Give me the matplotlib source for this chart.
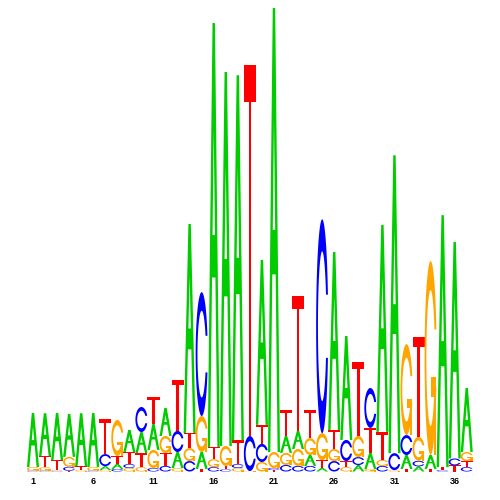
import numpy as np
import matplotlib
matplotlib.use("Agg")
import matplotlib.pyplot as plt
from matplotlib.path import Path
from matplotlib.patches import PathPatch

# ---------------- data (bits) ----------------
positions = list(range(1, 38))
tick_positions = [1, 6, 11, 16, 21, 26, 31, 36]
tick_labels = ["1", "6", "11", "16", "21", "26", "31", "36"]

height_A = [0.233, 0.185, 0.203, 0.185, 0.228, 0.233, 0.017, 0.022, 0.095, 0.091,
            0.112, 0.121, 0.069, 0.901, 0.073, 1.828, 1.612, 1.573, 0.000, 0.711,
            1.914, 0.073, 0.078, 0.047, 0.015, 0.767, 0.448, 0.028, 0.069, 0.892,
            1.284, 0.060, 0.022, 0.060, 1.086, 0.933, 0.276]
height_C = [0.004, 0.004, 0.002, 0.017, 0.000, 0.004, 0.052, 0.011, 0.017, 0.108,
            0.015, 0.024, 0.091, 0.045, 0.534, 0.019, 0.009, 0.017, 0.151, 0.078,
            0.009, 0.028, 0.024, 0.024, 0.922, 0.045, 0.091, 0.034, 0.172, 0.024,
            0.073, 0.086, 0.024, 0.000, 0.006, 0.030, 0.019]
height_G = [0.015, 0.015, 0.004, 0.043, 0.006, 0.015, 0.006, 0.155, 0.015, 0.019,
            0.078, 0.073, 0.015, 0.056, 0.155, 0.034, 0.086, 0.015, 0.002, 0.041,
            0.069, 0.052, 0.073, 0.073, 0.116, 0.052, 0.019, 0.091, 0.011, 0.026,
            0.006, 0.392, 0.103, 0.836, 0.000, 0.000, 0.039]
height_T = [0.000, 0.047, 0.043, 0.003, 0.017, 0.000, 0.151, 0.034, 0.052, 0.060,
            0.116, 0.056, 0.220, 0.065, 0.011, 0.052, 0.015, 0.103, 1.599, 0.082,
            0.006, 0.112, 0.582, 0.121, 0.034, 0.082, 0.026, 0.319, 0.108, 0.121,
            0.000, 0.011, 0.431, 0.011, 0.013, 0.026, 0.026]

letter_colors = {"A": "#00CC00", "C": "#0000FF", "G": "#FFA500", "T": "#FF0000"}


# ---------------- glyph shapes (unit box) ----------------
def glyph_A():
    outer = [(0, 0), (0.4, 1), (0.6, 1), (1, 0), (0.8, 0), (0.64, 0.4), (0.36, 0.4), (0.2, 0)]
    inner = [(0.4, 0.5), (0.6, 0.5), (0.5, 0.75)]
    return [outer + [outer[0]], inner + [inner[0]]]


def glyph_T():
    pts = [(0, 1), (1, 1), (1, 0.9), (0.6, 0.9), (0.6, 0), (0.4, 0), (0.4, 0.9), (0, 0.9)]
    return [pts + [pts[0]]]


def c_shape():
    a1 = np.linspace(0.3 + np.pi / 2, np.pi, 100)
    a2 = np.linspace(np.pi, 1.5 * np.pi, 100)
    xl1 = 0.5 + 0.5 * np.sin(a1)
    yl1 = 0.5 + 0.5 * np.cos(a1)
    xl = np.concatenate([xl1, 0.5 + 0.5 * np.sin(a2)])
    yl = np.concatenate([yl1, 0.5 + 0.5 * np.cos(a2)])
    x = np.concatenate([xl, xl[::-1]])
    y = np.concatenate([yl, 1 - yl[::-1]])
    xi1 = 0.5 + 0.35 * np.sin(a1)
    yi1 = 0.5 + 0.35 * np.cos(a1)
    keep = yi1 <= yl1.max()
    xi1 = xi1[keep]
    yi1 = yi1[keep]
    yi1[0] = yl1.max()
    xi = np.concatenate([xi1, 0.5 + 0.35 * np.sin(a2)])
    yi = np.concatenate([yi1, 0.5 + 0.35 * np.cos(a2)])
    x1 = np.concatenate([xi, xi[::-1]])
    y1 = np.concatenate([yi, 1 - yi[::-1]])
    x = np.concatenate([x, x1[::-1]])
    y = np.concatenate([y, y1[::-1]])
    return list(zip(x, y)), xl1.max()


def glyph_C():
    pts, _ = c_shape()
    return [pts + [pts[0]]]


def glyph_G():
    pts, r1 = c_shape()
    h1 = 0.4
    bar = [(r1, h1), (0.5, h1), (0.5, h1 - 0.1), (r1 - 0.2, h1 - 0.1),
           (r1 - 0.2, 0), (r1, 0)]
    return [pts + [pts[0]], bar + [bar[0]]]


glyphs = {"A": glyph_A(), "C": glyph_C(), "G": glyph_G(), "T": glyph_T()}


def draw_letter(ax, letter, xc, y0, h, w=1.0):
    polys = glyphs[letter]
    if letter == "A":
        # outer outline plus counter as one compound path (counter is a hole)
        verts, codes = [], []
        for poly in polys:
            v = [(xc - w / 2 + w * px, y0 + h * py) for px, py in poly]
            verts += v
            codes += [Path.MOVETO] + [Path.LINETO] * (len(v) - 2) + [Path.CLOSEPOLY]
        ax.add_patch(PathPatch(Path(verts, codes), facecolor=letter_colors[letter],
                               edgecolor="none", lw=0))
        return
    for poly in polys:
        v = [(xc - w / 2 + w * px, y0 + h * py) for px, py in poly]
        codes = [Path.MOVETO] + [Path.LINETO] * (len(v) - 2) + [Path.CLOSEPOLY]
        ax.add_patch(PathPatch(Path(v, codes), facecolor=letter_colors[letter],
                               edgecolor="none", lw=0))


# ---------------- figure ----------------
fig = plt.figure(figsize=(5, 5), dpi=100)
ax = fig.add_axes([0.05395, 0.057, 0.8916, 0.928])
ax.set_xlim(0.5, 37.5)
ax.set_ylim(0, 2)

heights = {"A": height_A, "C": height_C, "G": height_G, "T": height_T}
for i, pos in enumerate(positions):
    col = sorted([(heights[L][i], L) for L in "ACGT"], key=lambda t: t[0])
    base = 0.0
    for h, L in col:
        if h <= 0:
            continue
        draw_letter(ax, L, pos, base, h)
        base += h

for s in ax.spines.values():
    s.set_visible(False)
ax.set_yticks([])
ax.set_xticks(tick_positions)
ax.set_xticklabels(tick_labels, fontsize=6.5, fontweight="bold",
                   family=["Liberation Sans", "DejaVu Sans"])
ax.tick_params(axis="x", length=0, pad=4.2)

fig.savefig("out.png", dpi=100, facecolor="white")
